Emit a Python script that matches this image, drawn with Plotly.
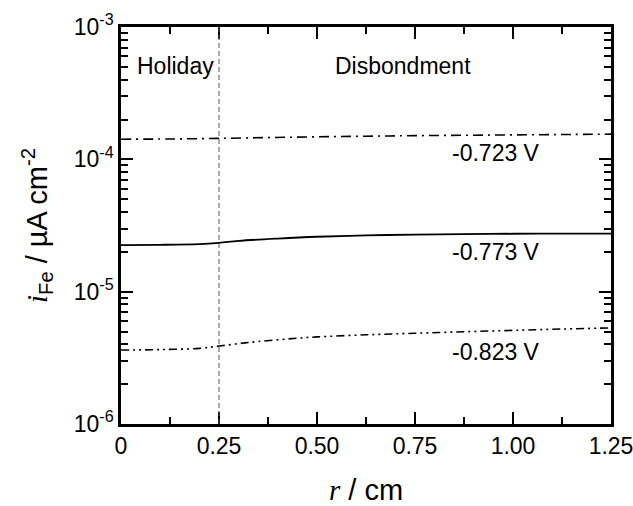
import math
import plotly.graph_objects as go

r_723 = [0, 0.125, 0.25, 0.375, 0.5, 0.625, 0.75, 0.875, 1.0, 1.125, 1.25]
i_723 = [1.42e-4, 1.425e-4, 1.44e-4, 1.46e-4, 1.48e-4, 1.495e-4, 1.51e-4, 1.52e-4, 1.53e-4, 1.54e-4, 1.55e-4]

r_773 = [0, 0.1, 0.2, 0.25, 0.3, 0.4, 0.5, 0.625, 0.75, 0.875, 1.0, 1.125, 1.25]
i_773 = [2.25e-5, 2.26e-5, 2.29e-5, 2.34e-5, 2.42e-5, 2.52e-5, 2.6e-5, 2.66e-5, 2.7e-5, 2.72e-5, 2.74e-5, 2.75e-5, 2.75e-5]

r_823 = [0, 0.1, 0.2, 0.25, 0.3, 0.35, 0.45, 0.5, 0.625, 0.75, 0.875, 1.0, 1.125, 1.25]
i_823 = [3.62e-6, 3.65e-6, 3.73e-6, 3.88e-6, 4.05e-6, 4.2e-6, 4.45e-6, 4.55e-6, 4.72e-6, 4.85e-6, 4.98e-6, 5.1e-6, 5.22e-6, 5.32e-6]

labels = ["-0.723 V", "-0.773 V", "-0.823 V"]
label_y = [1.12e-4, 1.99e-5, 3.49e-6]
label_x = 0.957

region_labels = ["Holiday", "Disbondment"]
region_x = [0.138, 0.72]
region_y = 5.07e-4

x_ticks = [0, 0.25, 0.5, 0.75, 1.0, 1.25]
x_ticktext = ["0", "0.25", "0.50", "0.75", "1.00", "1.25"]
y_ticks = [1e-6, 1e-5, 1e-4, 1e-3]
y_ticktext = ["10<sup>-6</sup>", "10<sup>-5</sup>", "10<sup>-4</sup>", "10<sup>-3</sup>"]
boundary_r = 0.25

FONT = "Liberation Sans, Arial, sans-serif"
SERIF = "Liberation Serif, Times New Roman, serif"

fig = go.Figure()
fig.add_trace(go.Scatter(x=r_723, y=i_723, mode="lines", line=dict(color="black", width=1.6, dash="10px,5px,2px,5px"), line_shape="spline", showlegend=False))
fig.add_trace(go.Scatter(x=r_773, y=i_773, mode="lines", line=dict(color="black", width=1.8), line_shape="spline", showlegend=False))
fig.add_trace(go.Scatter(x=r_823, y=i_823, mode="lines", line=dict(color="black", width=1.6, dash="8px,4px,2px,4px,2px,4px"), line_shape="spline", showlegend=False))

fig.add_shape(type="line", xref="x", yref="paper", x0=boundary_r, x1=boundary_r, y0=0, y1=1,
              line=dict(color="#555555", width=1, dash="5px,3px"))

for t, yv in zip(labels, label_y):
    fig.add_annotation(x=label_x, y=math.log10(yv), xref="x", yref="y", text=t, showarrow=False,
                       font=dict(family=FONT, size=23, color="black"), xanchor="center", yanchor="middle")

for t, xv in zip(region_labels, region_x):
    fig.add_annotation(x=xv, y=math.log10(region_y), xref="x", yref="y", text=t, showarrow=False,
                       font=dict(family=FONT, size=23, color="black"), xanchor="center", yanchor="middle")

axis_common = dict(showline=True, linecolor="black", linewidth=2.5, mirror="ticks", ticks="inside",
                   tickcolor="black", tickwidth=2, showgrid=False, zeroline=False, automargin=False,
                   ticklabeloverflow="allow",
                   tickfont=dict(family=FONT, size=23, color="black"))

fig.update_xaxes(range=[0, 1.25], tickvals=x_ticks, ticktext=x_ticktext, ticklen=12,
                 minor=dict(dtick=0.125, ticks="inside", ticklen=7, tickwidth=2, tickcolor="black"),
                 title=dict(text=f"<span style='font-family:{SERIF}'><i>r</i></span> / cm",
                            font=dict(family=FONT, size=29, color="black"), standoff=22),
                 **axis_common)
fig.update_yaxes(type="log", range=[-6, -3], tickvals=y_ticks, ticktext=y_ticktext, ticklen=12,
                 minor=dict(ticks="inside", ticklen=7, tickwidth=2, tickcolor="black", dtick="D1"),
                 title=dict(text=f"<span style='font-family:{SERIF}'><i>i</i></span><sub>Fe</sub> / µA cm<sup>-2</sup>",
                            font=dict(family=FONT, size=29, color="black"), standoff=18),
                 **axis_common)

fig.update_layout(width=633, height=506, margin=dict(l=121, r=22, t=27, b=82),
                  plot_bgcolor="white", paper_bgcolor="white")

fig.write_html("out.html")
